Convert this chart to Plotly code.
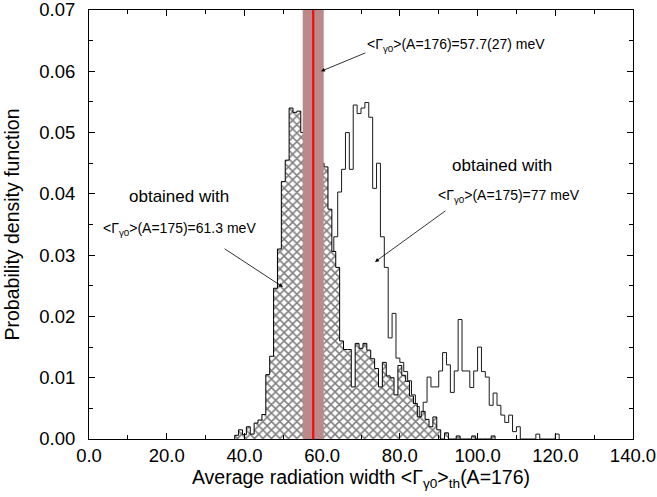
import plotly.graph_objects as go

# ---------------- data ----------------
# hatched histogram: bins of 1 meV centred on integers, first centre 38
hatched_first_center = 38
hatched_vals = [
    0.0006, 0.0015, 0.0007, 0.0020, 0.0008, 0.0026, 0.0031, 0.0040,   # 38-45
    0.0105, 0.0135, 0.0246, 0.0310, 0.0420, 0.0455, 0.0540, 0.0533,   # 46-53
    0.0535, 0.0500, 0.0490, 0.0480, 0.0470, 0.0460, 0.0450, 0.0444,   # 54-61
    0.0375, 0.0306, 0.0280, 0.0160, 0.0146, 0.0146, 0.0085, 0.0156,   # 62-69
    0.0148, 0.0156, 0.0145, 0.0131, 0.0115, 0.0085, 0.0125, 0.0103,   # 70-77
    0.0100, 0.0072, 0.0120, 0.0104, 0.0094, 0.0070, 0.0058, 0.0036,   # 78-85
    0.0045, 0.0032, 0.0020, 0.0036, 0.0015, 0.0000, 0.0010, 0.0000,   # 86-93
    0.0000, 0.0005, 0.0000, 0.0000, 0.0000, 0.0005, 0.0000, 0.0000,   # 94-101
    0.0000, 0.0000, 0.0005,                                           # 102-104
]

# open histogram: bins of 1 meV with integer edges, first bin [44,45]
open_first_edge = 44
open_vals = [
    0.0010, 0.0020, 0.0040, 0.0070, 0.0100, 0.0140, 0.0180, 0.0220,   # 44-51
    0.0250, 0.0280, 0.0300, 0.0310, 0.0320, 0.0330, 0.0340, 0.0340,   # 52-59
    0.0330, 0.0320, 0.0300, 0.0330, 0.0403, 0.0440, 0.0500, 0.0440,   # 60-67
    0.0545, 0.0531, 0.0540, 0.0549, 0.0525, 0.0409, 0.0450, 0.0330,   # 68-75
    0.0280, 0.0165, 0.0205, 0.0132, 0.0125, 0.0110, 0.0095, 0.0072,   # 76-83
    0.0053, 0.0036, 0.0060, 0.0101, 0.0085, 0.0085, 0.0111, 0.0141,   # 84-91
    0.0121, 0.0076, 0.0111, 0.0195, 0.0111, 0.0111, 0.0084, 0.0111,   # 92-99
    0.0150, 0.0110, 0.0101, 0.0055, 0.0075, 0.0055, 0.0039, 0.0027,   # 100-107
    0.0039, 0.0012, 0.0020, 0.0000, 0.0000, 0.0000, 0.0000, 0.0008,   # 108-115
    0.0000, 0.0000, 0.0000, 0.0000, 0.0008,                           # 116-120
]

# experimental value <Gamma_g0>(A=176) = 57.7(27) meV
exp_value = 57.7
exp_error = 2.7

x_ticks = [0, 20, 40, 60, 80, 100, 120, 140]
y_ticks = [0.00, 0.01, 0.02, 0.03, 0.04, 0.05, 0.06, 0.07]

FONT = "Liberation Sans, Arial, Helvetica, sans-serif"


def step_outline(first_edge, vals):
    edges = [first_edge + i for i in range(len(vals) + 1)]
    xs = [edges[0]] + edges
    ys = [0] + list(vals) + [0]
    return xs, ys


ox, oy = step_outline(open_first_edge, open_vals)
hx, hy = step_outline(hatched_first_center - 0.5, hatched_vals)

fig = go.Figure()
fig.add_trace(go.Scatter(
    x=ox, y=oy, mode="lines",
    line=dict(shape="hv", color="#1a1a1a", width=1),
    hoverinfo="skip", showlegend=False,
))
fig.add_trace(go.Scatter(
    x=hx, y=hy, mode="lines",
    line=dict(shape="hv", color="black", width=1),
    fill="tozeroy", fillcolor="white",
    fillpattern=dict(shape="x", fgcolor="black", bgcolor="white",
                     size=6, solidity=0.45),
    hoverinfo="skip", showlegend=False,
))

# band and central value
fig.add_shape(type="rect", xref="x", yref="paper",
              x0=exp_value - exp_error, x1=exp_value + exp_error, y0=0, y1=1,
              fillcolor="rgb(187,137,137)", line=dict(width=0), layer="above")
fig.add_shape(type="line", xref="x", yref="paper",
              x0=exp_value, x1=exp_value, y0=0, y1=1,
              line=dict(color="rgb(245,10,10)", width=2.2), layer="above")

axis_common = dict(
    showline=True, linecolor="black", linewidth=1, mirror="allticks",
    ticks="inside", ticklen=6, tickwidth=1, tickcolor="black",
    showgrid=False, zeroline=False, automargin=False,
    ticklabeloverflow="allow",
    tickfont=dict(family=FONT, size=18.5, color="black"),
)

fig.update_xaxes(
    range=[0, 140], tickvals=x_ticks, tickformat=".1f",
    minor=dict(dtick=10, ticks="inside", ticklen=4, tickcolor="black", showgrid=False),
    title=dict(text="Average radiation width &lt;Γ<sub>γ0</sub>&gt;<sub>th</sub>(A=176)",
               font=dict(family=FONT, size=19.5, color="black"), standoff=4),
    **axis_common,
)
fig.update_yaxes(
    range=[0, 0.0700001], tickvals=y_ticks, tickformat=".2f",
    minor=dict(dtick=0.005, ticks="inside", ticklen=4, tickcolor="black", showgrid=False),
    ticklabelstandoff=9,
    title=dict(text="Probability density function",
               font=dict(family=FONT, size=19.5, color="black"), standoff=14),
    **axis_common,
)

ann_font_small = dict(family=FONT, size=14, color="black")
ann_font_big = dict(family=FONT, size=17, color="black")

annotations = [
    # labels
    dict(x=71.1, y=0.0643, text="&lt;Γ<sub>γ0</sub>&gt;(A=176)=57.7(27) meV",
         xanchor="left", yanchor="middle", showarrow=False, font=ann_font_small),
    dict(x=23.1, y=0.0395, text="obtained with",
         xanchor="center", yanchor="middle", showarrow=False, font=ann_font_big),
    dict(x=3.0, y=0.0343, text="&lt;Γ<sub>γ0</sub>&gt;(A=175)=61.3 meV",
         xanchor="left", yanchor="middle", showarrow=False, font=ann_font_small),
    dict(x=106.3, y=0.0447, text="obtained with",
         xanchor="center", yanchor="middle", showarrow=False, font=ann_font_big),
    dict(x=89.3, y=0.0396, text="&lt;Γ<sub>γ0</sub>&gt;(A=175)=77 meV",
         xanchor="left", yanchor="middle", showarrow=False, font=ann_font_small),
    # arrows
    dict(x=59.7, y=0.0600, ax=71.5, ay=0.0631, axref="x", ayref="y", text="",
         showarrow=True, arrowhead=2, arrowsize=1, arrowwidth=0.8, arrowcolor="black"),
    dict(x=49.9, y=0.0248, ax=34.5, ay=0.0312, axref="x", ayref="y", text="",
         showarrow=True, arrowhead=2, arrowsize=1, arrowwidth=0.8, arrowcolor="black"),
    dict(x=73.6, y=0.0289, ax=92.1, ay=0.0374, axref="x", ayref="y", text="",
         showarrow=True, arrowhead=2, arrowsize=1, arrowwidth=0.8, arrowcolor="black"),
]

fig.update_layout(
    width=657, height=497,
    margin=dict(l=89, r=24, t=10, b=58),
    paper_bgcolor="white", plot_bgcolor="white",
    font=dict(family=FONT, color="black"),
    annotations=annotations,
    showlegend=False,
)

fig.write_html("out.html",
               config={"displayModeBar": False},
               post_script="document.body.style.margin='0';document.body.style.padding='0';")
